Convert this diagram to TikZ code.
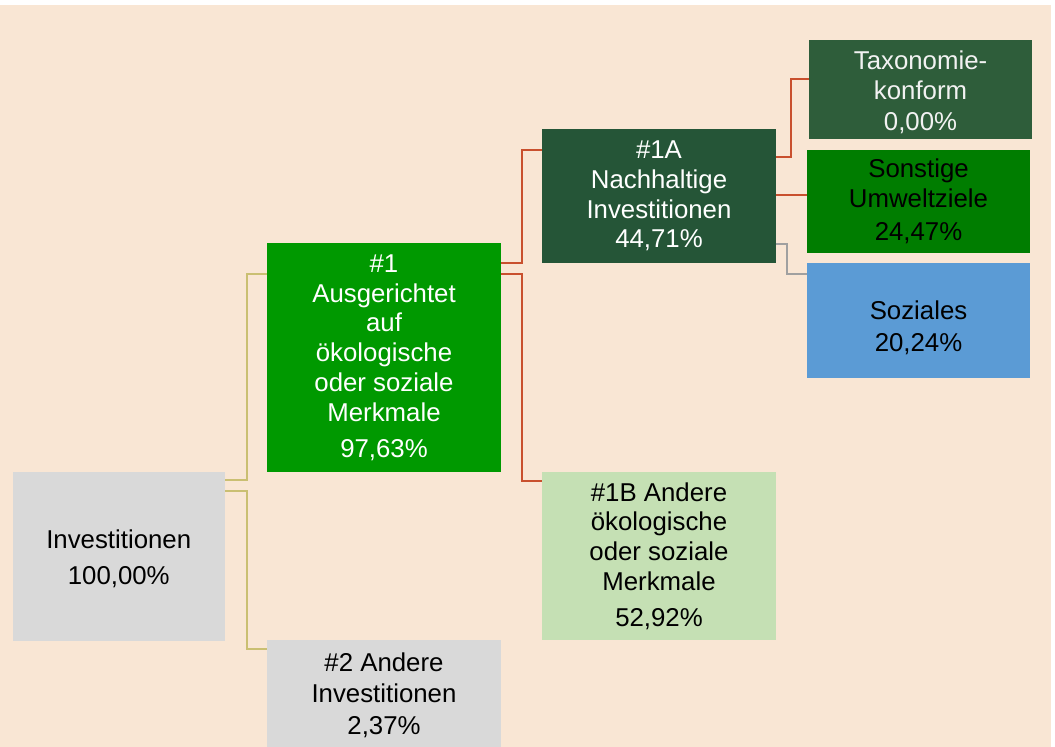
\documentclass[tikz,border=0pt]{standalone}
\usepackage{fontspec}
\setmainfont{Liberation Sans}
\definecolor{bgc}{HTML}{F9E6D4}
\definecolor{grayc}{HTML}{D9D9D9}
\definecolor{gonec}{HTML}{009900}
\definecolor{gonea}{HTML}{255537}
\definecolor{taxc}{HTML}{2E5D3A}
\definecolor{sonc}{HTML}{007D00}
\definecolor{sozc}{HTML}{5B9BD5}
\definecolor{onebc}{HTML}{C5E0B4}
\definecolor{yelc}{HTML}{CABF72}
\definecolor{redc}{HTML}{C9502E}
\definecolor{lgrayc}{HTML}{A0A0A0}
\begin{document}
\begin{tikzpicture}[x=1pt,y=-1pt,
  box/.style={rectangle, inner sep=0pt, outer sep=0pt, anchor=north west, align=center,
    font=\fontsize{25.8}{29.8}\selectfont},
  yel/.style={draw=yelc, line width=2pt},
  redl/.style={draw=redc, line width=2pt},
  grl/.style={draw=lgrayc, line width=2pt}]
\fill[white] (0,0) rectangle (1055,747);
\fill[bgc] (0,5) rectangle (1050.5,747);
\useasboundingbox (0,0) rectangle (1055,747);

\node[box, fill=grayc, minimum width=212.5pt, minimum height=168.5pt] (inv) at (12.5,472)
  {\rule{0pt}{24pt}Investitionen\\[6pt]100,00\%};
\node[box, fill=gonec, text=white, minimum width=234pt, minimum height=229pt] (n1) at (267,243)
  {\#1\\Ausgerichtet\\auf\\ökologische\\oder soziale\\Merkmale\\[6pt]97,63\%};
\node[box, fill=grayc, minimum width=234pt, minimum height=110pt] (n2) at (267,640)
  {\#2 Andere\\[1.5pt]Investitionen\\[1.5pt]2,37\%};
\node[box, fill=gonea, text=white, minimum width=234pt, minimum height=134pt] (n1a) at (542,129)
  {\#1A\\Nachhaltige\\Investitionen\\44,71\%};
\node[box, fill=onebc, minimum width=234pt, minimum height=168pt] (n1b) at (542,472)
  {\#1B Andere\\ökologische\\oder soziale\\Merkmale\\[6pt]52,92\%};
\node[box, fill=taxc, text=white!95!black, minimum width=223pt, minimum height=99pt] (tax) at (809,40)
  {\rule{0pt}{24pt}Taxonomie-\\[1pt]konform\\[1pt]0,00\%};
\node[box, fill=sonc, minimum width=223pt, minimum height=103pt] (son) at (807,150)
  {Sonstige\\Umweltziele\\[3pt]24,47\%};
\node[box, fill=sozc, minimum width=223pt, minimum height=115pt] (soz) at (807,263)
  {\rule{0pt}{34pt}Soziales\\[2pt]20,24\%};

\draw[yel] ([yshift=-8pt]inv.north east) -- ++(22,0) |- ([yshift=-31pt]n1.north west);
\draw[yel] ([yshift=-19pt]inv.north east) -- ++(22,0) |- ([yshift=-9pt]n2.north west);
\draw[redl] ([yshift=-20pt]n1.north east) -- ++(21,0) |- ([yshift=-21pt]n1a.north west);
\draw[redl] ([yshift=-31pt]n1.north east) -- ++(21,0) |- ([yshift=-9pt]n1b.north west);
\draw[redl] ([yshift=-28pt]n1a.north east) -- ++(15,0) |- ([yshift=-39pt]tax.north west);
\draw[redl] ([yshift=-66pt]n1a.north east) -- ([yshift=-45pt]son.north west);
\draw[grl] ([yshift=-115pt]n1a.north east) -- ++(11,0) |- ([yshift=-11pt]soz.north west);
\end{tikzpicture}
\end{document}
